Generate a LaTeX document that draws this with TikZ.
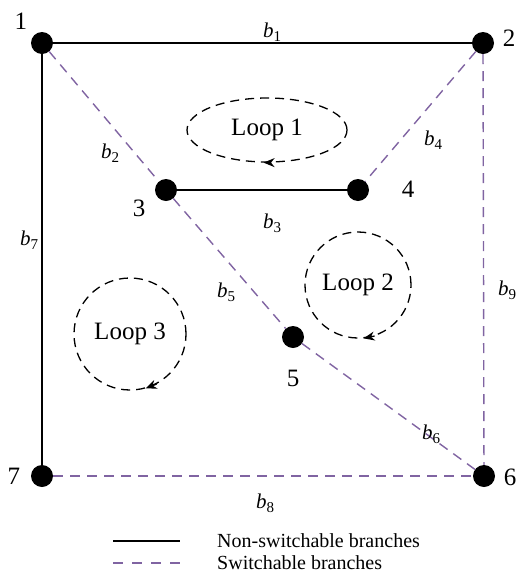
\documentclass[tikz,border=0pt]{standalone}
\usepackage{fontspec}
\setmainfont{Liberation Serif}
\usetikzlibrary{arrows.meta,shapes.geometric}
\definecolor{swpurple}{RGB}{128,100,162}
\newcommand{\brn}[1]{\textit{b}\raisebox{-0.45ex}{\fontsize{15}{17}\selectfont #1}}

\begin{document}
\begin{tikzpicture}[
        x=1pt, y=-1pt,
        bus/.style={
            circle,
            fill=black,
            inner sep=0pt,
            minimum size=22pt
        },
        num/.style={inner sep=0pt, font=\fontsize{25}{28}\selectfont},
        blab/.style={inner sep=0pt, font=\fontsize{21}{24}\selectfont},
        legtext/.style={inner sep=0pt, anchor=west, font=\fontsize{20}{22}\selectfont},
        fixed/.style={draw=black, line width=1.4pt},
        switch/.style={draw=swpurple, line width=1.4pt, dash pattern=on 10pt off 7pt},
        loopring/.style={
            draw,
            line width=1.3pt,
            dash pattern=on 9pt off 6pt,
            inner sep=0pt,
            font=\fontsize{25}{28}\selectfont
        },
        turn/.style={-{Stealth[length=11pt,width=9pt]}, line width=1.3pt}
    ]

        \useasboundingbox (0,0) rectangle (517,574);

        % buses
        \node[bus] (n1) at (42,43) {};
        \node[bus] (n2) at (483,43) {};
        \node[bus] (n3) at (166,190) {};
        \node[bus] (n4) at (358,190) {};
        \node[bus] (n5) at (293,337) {};
        \node[bus] (n6) at (484,476) {};
        \node[bus] (n7) at (42,476) {};

        \node[num] (t1) at (21,21) {1};
        \node[num] (t2) at (509,38) {2};
        \node[num] (t3) at (139,208) {3};
        \node[num] (t4) at (408,189) {4};
        \node[num] (t5) at (293,378) {5};
        \node[num] (t6) at (510,477) {6};
        \node[num] (t7) at (14,476) {7};

        % branches
        \draw[fixed] (n1) -- (n2);
        \draw[fixed] (n1) -- (n7);
        \draw[fixed] (n3) -- (n4);
        \draw[switch] (n1) -- (n3);
        \draw[switch] (n3) -- (n5);
        \draw[switch] (n5) -- (n6);
        \draw[switch] (n2) -- (n4);
        \draw[switch] (n2) -- (n6);
        \draw[switch] (n7) -- (n6);

        \node[blab] (b1) at (272,32) {\brn{1}};
        \node[blab] (b2) at (110,153) {\brn{2}};
        \node[blab] (b3) at (272,223) {\brn{3}};
        \node[blab] (b4) at (433,140) {\brn{4}};
        \node[blab] (b5) at (226,292) {\brn{5}};
        \node[blab] (b6) at (431,434) {\brn{6}};
        \node[blab] (b7) at (29,240) {\brn{7}};
        \node[blab] (b8) at (265,503) {\brn{8}};
        \node[blab] (b9) at (507,290) {\brn{9}};

        % loops
        \node[loopring, ellipse, minimum width=160pt, minimum height=64pt]
            (loop1) at (267,130) {Loop 1};
        \node[loopring, circle, minimum size=106pt]
            (loop2) at (358,285) {Loop 2};
        \node[loopring, circle, minimum size=112pt]
            (loop3) at (130,334) {Loop 3};

        \draw[turn] (loop1.-84) -- (loop1.-96);
        \draw[turn] (loop2.-72) -- (loop2.-84);
        \draw[turn] (loop3.-62) -- (loop3.-74);

        % legend
        \coordinate (lf1) at (113,541);
        \coordinate (lf2) at (180,541);
        \coordinate (ls1) at (113,563);
        \coordinate (ls2) at (180,563);
        \draw[fixed] (lf1) -- (lf2);
        \draw[switch, dash pattern=on 10pt off 9pt] (ls1) -- (ls2);
        \node[legtext] (lgf) at (217,541) {Non-switchable branches};
        \node[legtext] (lgs) at (217,563) {Switchable branches};

    \end{tikzpicture}
\end{document}
